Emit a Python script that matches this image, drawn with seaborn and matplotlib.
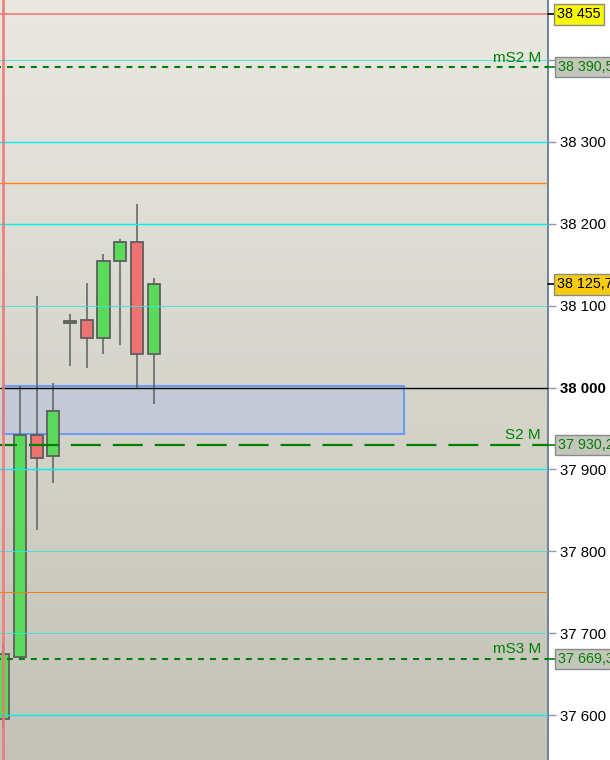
import numpy as np
import pandas as pd
import seaborn as sns
import matplotlib.pyplot as plt
from matplotlib.colors import LinearSegmentedColormap

# candles (oldest first)
opens = [37596, 37671, 37942, 37916, 38079, 38082, 38060, 38154, 38178, 38041]
closes = [37675, 37942, 37914, 37971, 38081.5, 38060, 38154, 38178, 38041, 38125.7]
highs = [37688, 38002, 38112, 38006, 38090, 38127, 38163, 38181, 38224, 38133]
lows = [37585, 37669, 37826, 37884, 38026, 38024, 38041, 38052, 38000, 37980]

# levels
cyan_main = [38300, 38200, 37900, 37600]
cyan_minor = [38400, 38100, 37800, 37700]
orange_lvls = [38250, 37750]
red_lvl = 38455
round_lvl = 38000
dotted_lvls = [38390.5, 37669.3]
dotted_names = ["mS2 M", "mS3 M"]
dashed_lvl = 37930.2
dashed_name = "S2 M"
last_price = 38125.7
zone_low, zone_high = 37943, 38002
zone_end = 24.0

ytick_vals = [37600, 37700, 37800, 37900, 38000, 38100, 38200, 38300, 38400]

df = pd.DataFrame({"open": opens, "close": closes, "high": highs, "low": lows})
df["up"] = df["close"] >= df["open"]

sns.set_theme(style="white")
plt.rcParams["font.family"] = ["Liberation Sans", "DejaVu Sans"]
plt.rcParams["lines.scale_dashes"] = False

fig = plt.figure(figsize=(6.1, 7.6), dpi=100)
fig.patch.set_facecolor("white")
ax = fig.add_axes([0, 0, 548 / 610, 1])

xmin, xmax = -0.198, 32.62
ymin, ymax = 37545.7, 38472.6

# background gradient
bg = LinearSegmentedColormap.from_list("bg", ["#C3C2B8", "#EAE9E1"])
ax.imshow(np.linspace(0, 1, 256).reshape(-1, 1), cmap=bg, origin="lower",
          extent=[xmin, xmax, ymin, ymax], aspect="auto", zorder=0)

# zone
ax.add_patch(plt.Rectangle((-0.02, zone_low), zone_end, zone_high - zone_low,
                           facecolor="#C3CAD6", edgecolor="#6E9CF5", lw=1.5, zorder=1))

# candles
x = np.arange(len(df))
ax.vlines(x, df["low"], df["high"], color="#5E5E5E", lw=1.1, zorder=2)
body_col = np.where(df["up"], "#5ADA5A", "#EE7272")
ax.bar(x, (df["close"] - df["open"]).abs(), bottom=df[["open", "close"]].min(axis=1),
       width=0.72, color=body_col, edgecolor="#5E5E5E", lw=1.3, zorder=3)

# level lines
for v in cyan_main:
    ax.axhline(v, color="#00F0F0", lw=1.0, zorder=4)
for v in cyan_minor:
    ax.axhline(v, color="#30E6E6", lw=0.6, zorder=4)
ax.axhline(orange_lvls[0], color="#FF8418", lw=1.0, zorder=4)
ax.axhline(orange_lvls[1], color="#F08020", lw=0.8, zorder=4)
ax.axhline(round_lvl, color="black", lw=1.0, zorder=4)
ax.axhline(red_lvl, color="#F08080", lw=1.3, zorder=4)

green = "#008000"
for v, name in zip(dotted_lvls, dotted_names):
    ax.axhline(v, color=green, lw=1.5, ls=(3.6, (4.3, 4.3)), zorder=5)
    ax.text(0.987, v + 3, name, transform=ax.get_yaxis_transform(), ha="right",
            va="bottom", color=green, fontsize=11, zorder=7)
ax.axhline(dashed_lvl, color=green, lw=1.6, ls=(9.4, (21.6, 8.6)), zorder=5)
ax.text(0.987, dashed_lvl + 3, dashed_name, transform=ax.get_yaxis_transform(),
        ha="right", va="bottom", color=green, fontsize=11, zorder=7)

# session line
ax.axvline(-0.005, color="#F07878", lw=2.0, alpha=0.9, zorder=6)

ax.set_xlim(xmin, xmax)
ax.set_ylim(ymin, ymax)
ax.set_xticks([])

# right price axis
ax.yaxis.tick_right()
ax.set_yticks(ytick_vals)
ax.set_yticklabels([f"{v:,}".replace(",", " ") if v != 38400 else "" for v in ytick_vals])
ax.tick_params(axis="y", direction="out", length=6, width=1, color="#8A9AAA",
               labelsize=10.8, labelcolor="black", pad=3, right=True)
for lbl in ax.get_yticklabels():
    if lbl.get_text() == "38 000":
        lbl.set_fontweight("bold")
for s in ["left", "top", "bottom"]:
    ax.spines[s].set_visible(False)
ax.spines["right"].set_color("#6F8396")
ax.spines["right"].set_linewidth(1.4)


def fmt(v):
    s = f"{v:,.1f}".replace(",", " ").replace(".", ",")
    return s[:-2] if s.endswith(",0") else s


# price boxes (cut at the right edge, as in the source chart)
tr = ax.get_yaxis_transform()
boxes = [
    (red_lvl, "#F8F800", "black"),
    (dotted_lvls[0], "#C4C5BC", green),
    (last_price, "#F7CC10", "black"),
    (dashed_lvl, "#C4C5BC", green),
    (dotted_lvls[1], "#C4C5BC", green),
]
for v, fc, tc in boxes:
    ax.plot([1.0, 1.012], [v, v], color=tc, lw=1.2, transform=tr, clip_on=False, zorder=8)
    x0 = 1.0 + 10 / 548 if fc.startswith("#C") else 1.0 + 9 / 548
    ax.text(x0, v, fmt(v), transform=tr, ha="left", va="center", color=tc,
            fontsize=10.3, clip_on=False, zorder=9,
            bbox=dict(boxstyle="square,pad=0.22", fc=fc, ec="#8A8A8A", lw=1))

fig.savefig("out.png", dpi=100)
